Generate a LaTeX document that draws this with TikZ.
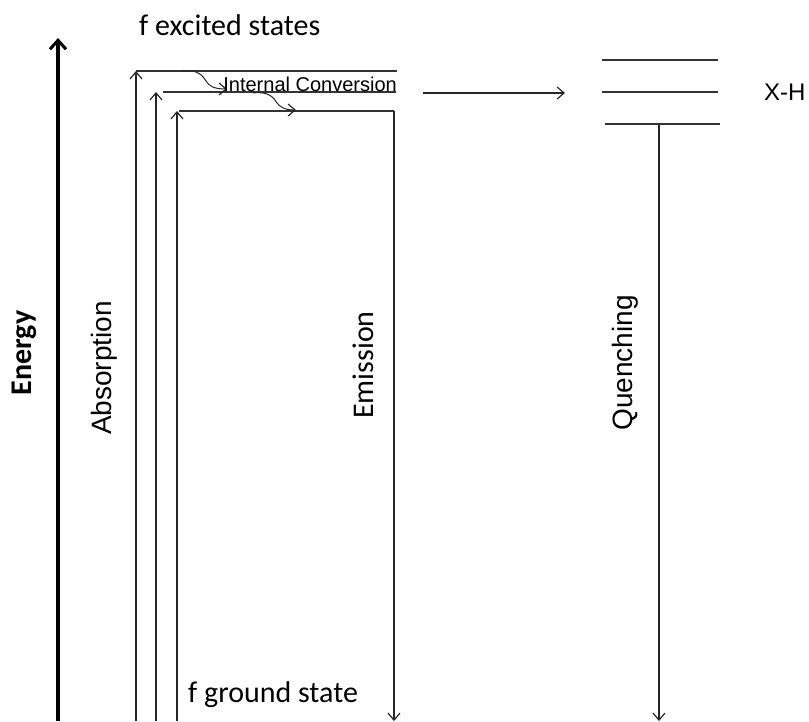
\documentclass[tikz,border=0pt]{standalone}
\usepackage{fontspec}
\setmainfont{Liberation Sans}
\newfontfamily\calfont{Carlito}
\usetikzlibrary{arrows.meta}
\begin{document}
\begin{tikzpicture}[x=1pt,y=-1pt,
  level/.style={line width=1.3pt, draw=black!80},
  trans/.style={line width=1.2pt, draw=black!85, -{Straight Barb[length=7pt,width=12pt,line width=1.2pt]}},
  axis/.style={line width=4pt, -{Straight Barb[length=9pt,width=16pt,line width=3pt]}},
  arial/.style={font=\fontsize{28}{32}\selectfont, inner sep=0pt},
  cal/.style={font=\calfont\fontsize{30}{34}\selectfont, inner sep=0pt}]
\useasboundingbox (0,0) rectangle (809,721);

% energy axis
\coordinate (e0) at (58,721);
\coordinate (e1) at (58,38);
\draw[axis] (e0) -- (e1);
\node[cal, font=\calfont\bfseries\fontsize{30}{34}\selectfont, rotate=90] (energy) at (24,353) {Energy};

% fluorophore levels
\coordinate (s2a) at (136,71);  \coordinate (s2b) at (397,71);
\coordinate (s1a) at (163,92);  \coordinate (s1b) at (396,92);
\coordinate (s0a) at (179,111); \coordinate (s0b) at (394,111);
\draw[level] (s2a) -- (s2b);
\draw[level] (s1a) -- (s1b);
\draw[level] (s0a) -- (s0b);

\node[cal, anchor=west] (exc) at (139,25) {f excited states};
\node[cal, anchor=west] (gnd) at (188,695) {f ground state};

% absorption
\coordinate (a1) at (136,721); \coordinate (a1t) at (136,71);
\coordinate (a2) at (156,721); \coordinate (a2t) at (156,92);
\coordinate (a3) at (177,721); \coordinate (a3t) at (177,111);
\draw[trans] (a1) -- (a1t);
\draw[trans] (a2) -- (a2t);
\draw[trans] (a3) -- (a3t);
\node[arial, rotate=90] (abs) at (104,368) {Absorption};

% internal conversion (wavy relaxation arrows)
\coordinate (ic1) at (182,71);  \coordinate (ic1e) at (227,89);
\coordinate (ic2) at (253,93);  \coordinate (ic2e) at (296,110);
\draw[trans, line width=1pt] (ic1) .. controls (198,69) and (203,76) .. (206,81)
  .. controls (209,86) and (214,89) .. (ic1e);
\draw[trans, line width=1pt] (ic2) .. controls (269,91) and (274,98) .. (277,103)
  .. controls (280,107) and (285,110) .. (ic2e);
\node[arial, font=\fontsize{20}{24}\selectfont, anchor=east] (icl) at (397,84) {Internal Conversion};

% emission
\coordinate (em0) at (394,111); \coordinate (em1) at (394,721);
\draw[trans] (em0) -- (em1);
\node[cal, rotate=90] (emi) at (363,365) {Emission};

% transfer to quencher
\coordinate (tr0) at (423,93); \coordinate (tr1) at (565,93);
\draw[trans] (tr0) -- (tr1);

% quencher levels
\coordinate (q2a) at (602,60);  \coordinate (q2b) at (718,60);
\coordinate (q1a) at (602,92);  \coordinate (q1b) at (718,92);
\coordinate (q0a) at (605,124); \coordinate (q0b) at (720,124);
\draw[level] (q2a) -- (q2b);
\draw[level] (q1a) -- (q1b);
\draw[level] (q0a) -- (q0b);
\node[arial, font=\fontsize{24}{28}\selectfont, anchor=west] (xh) at (764,92) {X-H};

% quenching
\coordinate (qu0) at (659,124); \coordinate (qu1) at (659,721);
\draw[trans] (qu0) -- (qu1);
\node[arial, rotate=90] (que) at (625,363) {Quenching};
\end{tikzpicture}
\end{document}
